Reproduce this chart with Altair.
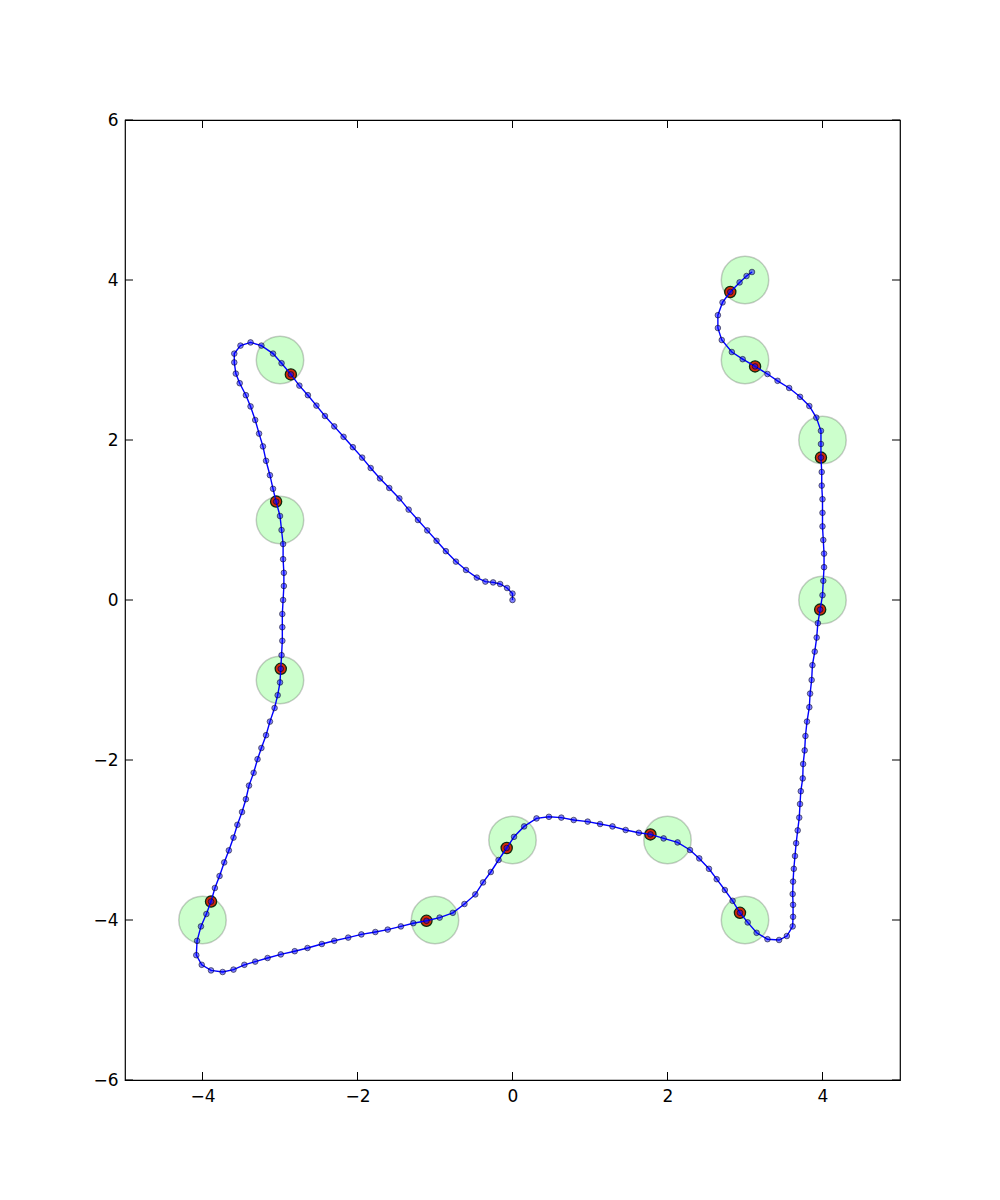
import altair as alt
import pandas as pd

# Target positions (green circles)
target_x = [3, 3, 4, 4, 2, 3, 0, -1, -4, -3, -3, -3]
target_y = [4, 3, 2, 0, -3, -4, -3, -4, -4, -1, 1, 3]

# Reached positions (red dots)
reach_x = [-2.86, -3.05, -2.99, -3.89, -1.11, -0.075, 1.78, 2.935, 3.97, 3.98, 3.13, 2.81]
reach_y = [2.82, 1.23, -0.86, -3.77, -4.01, -3.10, -2.93, -3.91, -0.12, 1.78, 2.92, 3.85]

# Trajectory samples (blue path)
path_x = [0.00, 0.00, -0.07, -0.16, -0.25, -0.35, -0.46, -0.60, -0.73, -0.86,
          -0.98, -1.10, -1.22, -1.34, -1.46, -1.59, -1.71, -1.83, -1.94, -2.06,
          -2.18, -2.30, -2.42, -2.53, -2.64, -2.75, -2.86, -2.98, -3.09, -3.24,
          -3.38, -3.51, -3.59, -3.59, -3.57, -3.52, -3.44, -3.38, -3.32, -3.27,
          -3.22, -3.18, -3.13, -3.09, -3.05, -3.00, -2.98, -2.96, -2.96, -2.95,
          -2.95, -2.96, -2.97, -2.97, -2.97, -2.98, -2.99, -3.00, -3.03, -3.07,
          -3.13, -3.18, -3.24, -3.29, -3.34, -3.40, -3.44, -3.49, -3.55, -3.60,
          -3.66, -3.72, -3.78, -3.84, -3.89, -3.95, -4.02, -4.07, -4.08, -4.01,
          -3.89, -3.74, -3.60, -3.46, -3.32, -3.16, -2.99, -2.81, -2.645, -2.46,
          -2.30, -2.12, -1.95, -1.77, -1.61, -1.44, -1.28, -1.11, -0.94, -0.77,
          -0.62, -0.48, -0.38, -0.28, -0.18, -0.075, 0.02, 0.15, 0.31, 0.47,
          0.63, 0.79, 0.97, 1.13, 1.29, 1.46, 1.63, 1.78, 1.95, 2.13,
          2.29, 2.41, 2.535, 2.635, 2.74, 2.84, 2.935, 3.035, 3.15, 3.29,
          3.44, 3.54, 3.615, 3.62, 3.62, 3.615, 3.62, 3.63, 3.645, 3.66,
          3.68, 3.70, 3.71, 3.72, 3.745, 3.75, 3.77, 3.78, 3.80, 3.83,
          3.84, 3.86, 3.87, 3.90, 3.925, 3.94, 3.97, 4.00, 4.01, 4.02,
          4.02, 4.01, 4.00, 4.00, 4.00, 3.99, 3.99, 3.98, 3.98, 3.98,
          3.92, 3.83, 3.71, 3.57, 3.42, 3.29, 3.13, 2.97, 2.83, 2.70,
          2.65, 2.65, 2.71, 2.81, 2.93, 3.02, 3.09]
path_y = [0.00, 0.08, 0.15, 0.20, 0.22, 0.23, 0.28, 0.375, 0.48, 0.61,
          0.74, 0.87, 1.00, 1.13, 1.27, 1.40, 1.52, 1.65, 1.78, 1.91,
          2.04, 2.17, 2.30, 2.43, 2.56, 2.68, 2.82, 2.96, 3.08, 3.18,
          3.22, 3.18, 3.08, 2.97, 2.83, 2.71, 2.56, 2.42, 2.25, 2.08,
          1.92, 1.74, 1.56, 1.39, 1.23, 1.05, 0.875, 0.70, 0.51, 0.34,
          0.175, 0.00, -0.175, -0.34, -0.51, -0.69, -0.86, -1.03, -1.19, -1.35,
          -1.52, -1.69, -1.85, -1.99, -2.16, -2.32, -2.49, -2.65, -2.81, -2.97,
          -3.13, -3.28, -3.45, -3.60, -3.77, -3.925, -4.08, -4.26, -4.44, -4.56,
          -4.63, -4.65, -4.62, -4.56, -4.52, -4.475, -4.43, -4.39, -4.35, -4.30,
          -4.26, -4.22, -4.18, -4.15, -4.12, -4.08, -4.04, -4.01, -3.97, -3.91,
          -3.80, -3.68, -3.53, -3.40, -3.25, -3.10, -2.96, -2.83, -2.73, -2.71,
          -2.72, -2.75, -2.77, -2.80, -2.83, -2.875, -2.91, -2.93, -2.98, -3.03,
          -3.125, -3.23, -3.36, -3.49, -3.625, -3.76, -3.91, -4.03, -4.16, -4.24,
          -4.25, -4.20, -4.08, -3.96, -3.81, -3.675, -3.52, -3.36, -3.20, -3.04,
          -2.88, -2.72, -2.55, -2.39, -2.23, -2.05, -1.88, -1.70, -1.52, -1.34,
          -1.17, -1.00, -0.815, -0.645, -0.47, -0.29, -0.12, 0.06, 0.24, 0.41,
          0.58, 0.75, 0.92, 1.09, 1.26, 1.43, 1.60, 1.78, 1.95, 2.115,
          2.28, 2.425, 2.54, 2.65, 2.74, 2.825, 2.92, 3.01, 3.10, 3.25,
          3.40, 3.56, 3.72, 3.85, 3.97, 4.05, 4.10]

x_ticks = [-4, -2, 0, 2, 4]
y_ticks = [-6, -4, -2, 0, 2, 4, 6]

W, H = 775, 960
TICK = 8

targets = pd.DataFrame({"x": target_x, "y": target_y})
reached = pd.DataFrame({"x": reach_x, "y": reach_y})
path = pd.DataFrame({"x": path_x, "y": path_y, "i": list(range(len(path_x)))})
xt = pd.DataFrame({"v": x_ticks})
yt = pd.DataFrame({"v": y_ticks})

xs = alt.Scale(domain=[-5, 5], nice=False, zero=False)
ys = alt.Scale(domain=[-6, 6], nice=False, zero=False)

lab = dict(labelFont="DejaVu Sans", labelFontSize=17, labelColor="black",
           domain=False, ticks=False, grid=False, title=None, format="d",
           labelExpr="replace(format(datum.value, 'd'), '-', '\u2212')")

xax = alt.Axis(values=x_ticks, labelPadding=8, **lab)
yax = alt.Axis(values=y_ticks, labelPadding=7, **lab)

circles = alt.Chart(targets).mark_point(
    shape="circle", filled=True, size=2250, fill="#00ff00", fillOpacity=0.2,
    stroke="#000000", strokeOpacity=0.2, strokeWidth=1.5
).encode(x=alt.X("x:Q", scale=xs, axis=xax), y=alt.Y("y:Q", scale=ys, axis=yax))

reds = alt.Chart(reached).mark_point(
    shape="circle", filled=True, size=125, fill="#d42a0a", stroke="#0d2a0d",
    strokeWidth=1.3, opacity=1
).encode(x=alt.X("x:Q", scale=xs), y=alt.Y("y:Q", scale=ys))

line = alt.Chart(path).mark_line(color="#0000ff", strokeWidth=1.4).encode(
    x=alt.X("x:Q", scale=xs), y=alt.Y("y:Q", scale=ys), order="i:Q")

dots = alt.Chart(path).mark_point(
    shape="circle", filled=True, size=32, fill="#0000ff", fillOpacity=0.5,
    stroke="#000000", strokeOpacity=0.5, strokeWidth=1
).encode(x=alt.X("x:Q", scale=xs), y=alt.Y("y:Q", scale=ys))

tick_style = dict(color="black", strokeWidth=1)
xt_bottom = alt.Chart(xt).mark_rule(**tick_style).encode(
    x=alt.X("v:Q", scale=xs), y=alt.value(H), y2=alt.value(H - TICK))
xt_top = alt.Chart(xt).mark_rule(**tick_style).encode(
    x=alt.X("v:Q", scale=xs), y=alt.value(0), y2=alt.value(TICK))
yt_left = alt.Chart(yt).mark_rule(**tick_style).encode(
    y=alt.Y("v:Q", scale=ys), x=alt.value(0), x2=alt.value(TICK))
yt_right = alt.Chart(yt).mark_rule(**tick_style).encode(
    y=alt.Y("v:Q", scale=ys), x=alt.value(W), x2=alt.value(W - TICK))

chart = alt.layer(
    circles, reds, line, dots, xt_bottom, xt_top, yt_left, yt_right
).properties(
    width=W, height=H,
    autosize=alt.AutoSizeParams(type="none"),
    padding={"left": 117, "top": 112, "right": 92, "bottom": 112},
    background="white",
).configure_view(stroke="black", strokeWidth=1.2)

chart.save("out.html", embed_options={"renderer": "svg", "actions": False})
